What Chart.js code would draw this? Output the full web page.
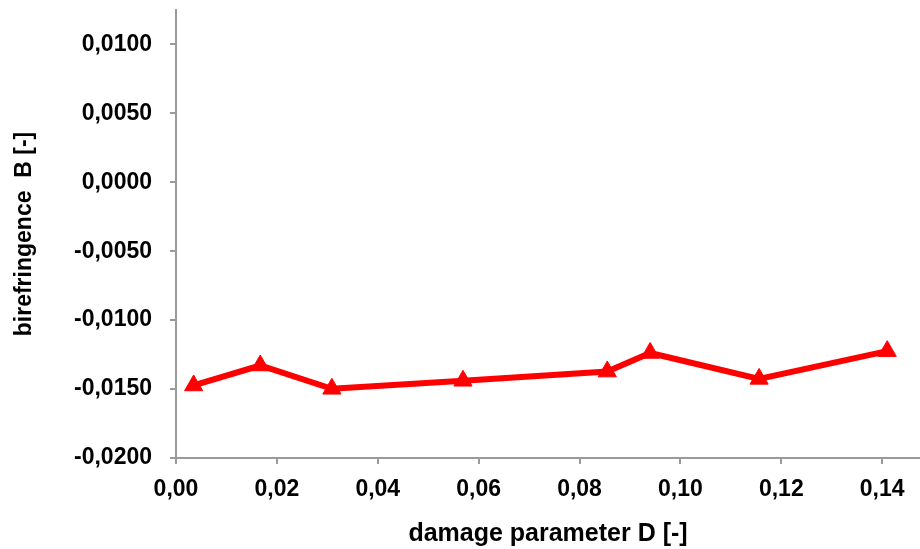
<!DOCTYPE html>
<html>
<head>
<meta charset="utf-8">
<script src="https://cdn.jsdelivr.net/npm/chart.js@4/dist/chart.umd.min.js"></script>
<style>
    html, body { margin: 0; padding: 0; background: #ffffff; }
    #wrap { width: 920px; height: 549px; }
</style>
</head>
<body>
<div id="wrap"><canvas id="birefChart" width="920" height="549"></canvas></div>
<script>
// Data
const damageD = [0.0035, 0.0167, 0.0309, 0.0569, 0.0855, 0.0940, 0.1156, 0.1410];
const birefringenceB = [-0.01474, -0.01329, -0.01498, -0.01440, -0.01373, -0.01238, -0.01426, -0.01225];
const yTickValues = [-0.02, -0.015, -0.01, -0.005, 0, 0.005, 0.01];
const xTickValues = [0, 0.02, 0.04, 0.06, 0.08, 0.10, 0.12, 0.14];

const FONT = 'Liberation Sans, Arial, sans-serif';
const AXIS_GREY = '#9a9a9a';

// Comma as decimal separator
function fmt(v, digits) {
    return v.toFixed(digits).replace('.', ',');
}

const points = damageD.map((d, i) => ({ x: d, y: birefringenceB[i] }));

new Chart(document.getElementById('birefChart'), {
    type: 'line',
    data: {
        datasets: [{
            data: points,
            borderColor: '#ff0000',
            backgroundColor: '#ff0000',
            borderWidth: 6,
            pointStyle: 'triangle',
            pointRadius: 10.5,
            pointBorderWidth: 1,
            tension: 0,
            clip: false
        }]
    },
    options: {
        responsive: false,
        animation: false,
        layout: { autoPadding: false, padding: { top: 10, right: 0, bottom: 0, left: 0 } },
        plugins: {
            legend: { display: false },
            tooltip: { enabled: false }
        },
        scales: {
            x: {
                type: 'linear',
                min: 0,
                max: 0.1475,
                afterBuildTicks: (scale) => {
                    scale.ticks = xTickValues.map(v => ({ value: v }));
                },
                afterFit: (scale) => {
                    scale.height = 91;
                    scale.paddingLeft = 0;
                    scale.paddingRight = 0;
                },
                grid: {
                    display: true,
                    drawOnChartArea: false,
                    drawTicks: true,
                    tickLength: 6,
                    color: AXIS_GREY,
                    lineWidth: 2
                },
                border: { display: true, color: AXIS_GREY, width: 2 },
                ticks: {
                    padding: 12,
                    color: '#000000',
                    maxRotation: 0,
                    font: { family: FONT, size: 23, weight: 'bold' },
                    callback: (v) => fmt(v, 2)
                },
                title: {
                    display: true,
                    text: 'damage parameter D [-]',
                    color: '#000000',
                    padding: { top: 0, bottom: 0 },
                    font: { family: FONT, size: 25, weight: 'bold' }
                }
            },
            y: {
                type: 'linear',
                min: -0.02,
                max: 0.0125,
                afterBuildTicks: (scale) => {
                    scale.ticks = yTickValues.map(v => ({ value: v }));
                },
                afterFit: (scale) => {
                    scale.width = 176;
                    scale.paddingTop = 0;
                    scale.paddingBottom = 0;
                },
                grid: {
                    display: true,
                    drawOnChartArea: false,
                    drawTicks: true,
                    tickLength: 6,
                    color: AXIS_GREY,
                    lineWidth: 2
                },
                border: { display: true, color: AXIS_GREY, width: 2 },
                ticks: {
                    padding: 18,
                    color: '#000000',
                    font: { family: FONT, size: 23, weight: 'bold' },
                    callback: (v) => fmt(v, 4)
                },
                title: {
                    display: true,
                    text: 'birefringence  B [-]',
                    color: '#000000',
                    padding: { top: 11, bottom: 0 },
                    font: { family: FONT, size: 23, weight: 'bold' }
                }
            }
        }
    }
});
</script>
</body>
</html>
